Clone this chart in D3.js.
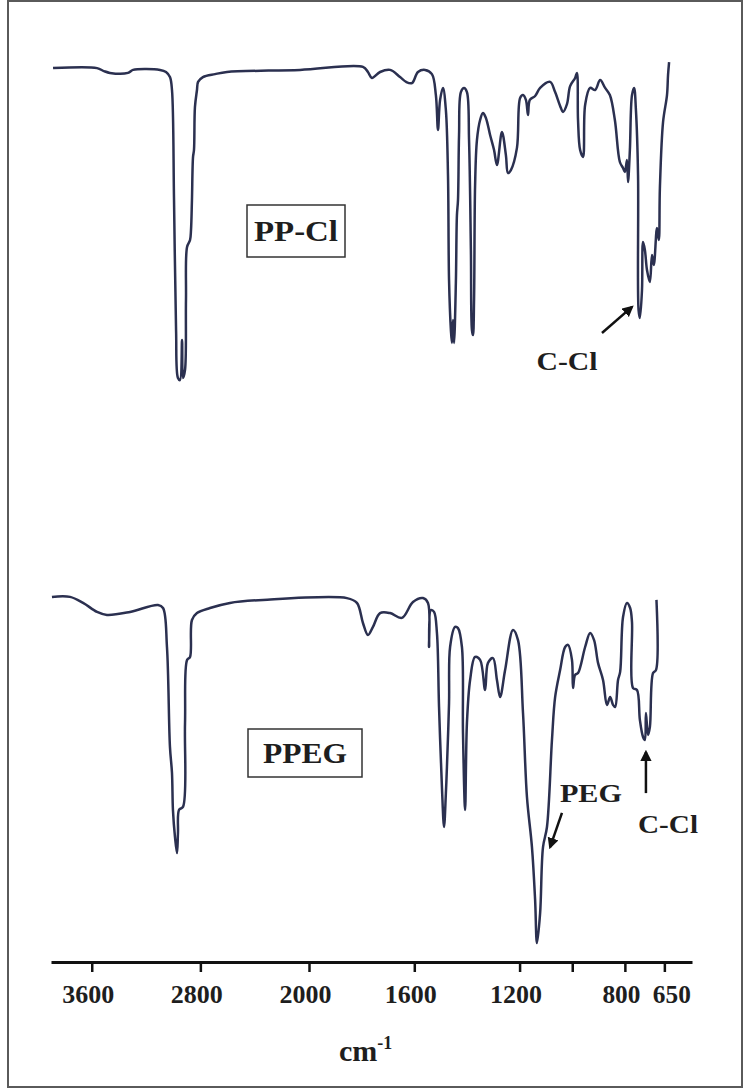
<!DOCTYPE html>
<html>
<head>
<meta charset="utf-8">
<script src="https://cdn.jsdelivr.net/npm/d3@7/dist/d3.min.js"></script>
<style>
  html, body { margin: 0; padding: 0; background: #fff; }
  svg { display: block; }
  text { font-family: "Liberation Serif", "DejaVu Serif", serif; font-weight: bold; fill: #1e1e1e; }
</style>
</head>
<body>
<div id="chart"></div>
<script>
// wavenumber (cm-1) / relative transmittance
const ppclWn = [3885, 3561, 3510, 3466, 3333, 3296, 3097, 3053, 3024, 3009, 2994, 2979, 2965, 2950, 2935, 2928, 2913, 2906, 2898, 2876, 2869, 2862, 2854, 2847, 2840, 2825, 2817, 2781, 2692, 2604, 2066,
  1795, 1776, 1761, 1730, 1692, 1654, 1631, 1609, 1586, 1559, 1533, 1518, 1510, 1502, 1491, 1480, 1472, 1468, 1461, 1457, 1453, 1449, 1442, 1438, 1434, 1430, 1423, 1411, 1400, 1392, 1385, 1381, 1377, 1373, 1369, 1362,
  1350, 1339, 1328, 1312, 1297, 1286, 1267, 1252, 1244, 1233, 1210, 1198, 1187, 1176, 1168, 1161, 1141, 1122, 1084, 1065, 1046, 1035, 1020, 1008, 989, 982, 978, 970, 959, 951,
  932, 913, 894, 875, 857, 838, 819, 807, 800, 792, 788, 781, 773, 765, 758, 750, 748, 743, 735, 731, 724, 716, 705, 697, 690, 678, 671, 667, 655, 640, 636, 632]
const ppclT = [107.3, 107.3, 106.3, 105.7, 105.7, 106.7, 106.7, 106, 104.3, 100, 63.3, 20, 4, 3.3, 16.7, 4, 6.7, 30, 47.7, 50, 53.3, 63.3, 77.7, 80, 94.3, 100, 102.7, 104.3, 105.3, 106, 106.7,
  107.7, 106, 104, 106, 106.7, 104.3, 102.7, 102.3, 106, 106.7, 105.3, 98.3, 86.7, 96.7, 100.7, 93.3, 71.7, 36.7, 20, 15.7, 23.3, 15.7, 36, 58.3, 63.3, 85, 99.3, 100.7, 99.3, 83.3, 46.7, 20, 18.3, 30, 68.3, 83.3,
  90, 92.3, 90.7, 85, 80, 75, 86, 78.3, 72.3, 73.3, 80.7, 97.3, 98.3, 96.7, 91.7, 96.7, 98, 100.7, 102.7, 99.3, 94.7, 92.7, 95.3, 101.3, 104, 105.7, 90, 80, 77.7, 95,
  100.7, 100, 103.3, 100.7, 98.3, 90, 76, 74, 72.7, 76.7, 69.3, 80, 98.3, 100.7, 93.3, 71.7, 26.7, 24, 33.3, 49.3, 46.7, 40, 36, 45, 41.7, 54, 50, 67.3, 89.3, 98.3, 105, 109.3]

const ppegWn = [3893, 3760, 3664, 3561, 3488, 3318, 3112, 3075, 3046, 3024, 3009, 3002, 2987, 2972, 2965, 2957, 2928, 2913, 2898, 2876, 2862, 2825, 2729, 2582, 2339,
  1856, 1818, 1795, 1776, 1757, 1730, 1692, 1647, 1605, 1567, 1548, 1544, 1537, 1525, 1514, 1506, 1495, 1487, 1480, 1476, 1468, 1464, 1445, 1434, 1419, 1415, 1407, 1400, 1388, 1369,
  1350, 1331, 1320, 1301, 1286, 1274, 1255, 1225, 1206, 1187, 1172, 1153, 1141, 1134, 1122, 1111, 1096, 1077, 1065, 1046, 1027, 1016, 1001, 997, 989, 978, 951,
  932, 917, 902, 883, 868, 856, 845, 837, 826, 818, 807, 792, 780, 773, 769, 754, 743, 731, 724, 720, 712, 705, 693, 682, 680]
const ppegT = [117.7, 117.7, 115.7, 112.7, 111.7, 112.7, 115, 114, 101, 67.7, 59, 46.7, 37.7, 32.3, 39, 46.7, 47.7, 75.7, 96.7, 97.7, 110, 112.3, 114, 115.7, 116.7,
  117.3, 115.7, 109, 105, 107.7, 112.3, 112.3, 110.7, 116, 117.3, 115.7, 101, 113.3, 112.7, 105.7, 81, 54.3, 41, 52.3, 61, 82.3, 101, 107.7, 107.3, 101, 72.3, 46.7, 75.7, 90, 97.7,
  96.7, 86.7, 95.7, 97.3, 90, 84.3, 93.3, 106.7, 103.3, 79, 51, 34.3, 16.7, 2.3, 12.3, 34.3, 41, 70, 84.3, 93.3, 101, 101.7, 96.7, 87.3, 91.7, 92.3, 101,
  105.7, 103.3, 95.7, 90, 81.7, 84.3, 81.7, 81, 90, 92.7, 111, 115.7, 114, 109.3, 87.3, 86.7, 76.7, 71, 70, 79, 71.7, 74.3, 92.3, 93.3, 116.7]

const tickValues = [3600, 2800, 2000, 1600, 1200, 1000, 800, 650]
const tickLabels = ['3600', '2800', '2000', '1600', '1200', '', '800', '650']

const W = 750
const H = 1090

const svg = d3.select('#chart').append('svg')
  .attr('width', W)
  .attr('height', H)

// outer frame
svg.append('rect')
  .attr('x', 8).attr('y', 1)
  .attr('width', 734).attr('height', 1086)
  .attr('fill', 'none')
  .attr('stroke', '#5a5a5a')
  .attr('stroke-width', 2)

// the x axis changes scale at 2000 cm-1
const x = d3.scaleLinear().domain([3900, 2000, 545]).range([51, 309, 692])
const yTop = d3.scaleLinear().domain([0, 110]).range([390, 60])
const yBot = d3.scaleLinear().domain([0, 120]).range([950, 590])

function drawTrace (wn, t, y) {
  const pts = wn.map((d, i) => [d, t[i]])
  const line = d3.line()
    .x(d => x(d[0]))
    .y(d => y(d[1]))
    .curve(d3.curveCatmullRom.alpha(0.5))
  svg.append('path')
    .datum(pts)
    .attr('d', line)
    .attr('fill', 'none')
    .attr('stroke', '#2b3050')
    .attr('stroke-width', 2.5)
    .attr('stroke-linejoin', 'round')
}

drawTrace(ppclWn, ppclT, yTop)
drawTrace(ppegWn, ppegT, yBot)

// axis
const axisG = svg.append('g')
  .attr('transform', 'translate(0,962)')
  .call(d3.axisBottom(x)
    .tickValues(tickValues)
    .tickSize(10)
    .tickSizeOuter(0)
    .tickFormat((d, i) => tickLabels[i]))
axisG.select('.domain').attr('stroke', '#111').attr('stroke-width', 3)
axisG.selectAll('.tick line').attr('stroke', '#111').attr('stroke-width', 2.5)
axisG.selectAll('.tick text')
  .attr('y', 41)
  .attr('dy', 0)
  .attr('dx', d => d === 650 ? 7 : -4)
  .attr('font-size', 25)
  .attr('font-family', '"Liberation Serif", serif')
  .attr('font-weight', 'bold')
  .attr('fill', '#222')
  .attr('textLength', d => d >= 1000 ? 52 : 38)
  .attr('lengthAdjust', 'spacingAndGlyphs')

// axis title
const title = svg.append('text')
  .attr('x', 339)
  .attr('y', 1061)
  .attr('font-size', 30)
title.append('tspan').text('cm')
title.append('tspan').text('-1').attr('font-size', 18).attr('dy', -12)

// sample name boxes
function nameBox (label, bx, by, bw, bh) {
  svg.append('rect')
    .attr('x', bx).attr('y', by)
    .attr('width', bw).attr('height', bh)
    .attr('fill', '#fff')
    .attr('stroke', '#333')
    .attr('stroke-width', 1.5)
  svg.append('text')
    .attr('x', bx + bw / 2)
    .attr('y', by + bh / 2 + 10)
    .attr('text-anchor', 'middle')
    .attr('font-size', 29)
    .attr('textLength', 84)
    .attr('lengthAdjust', 'spacingAndGlyphs')
    .text(label)
}
nameBox('PP-Cl', 247, 205, 98, 52)
nameBox('PPEG', 248, 729, 114, 48)

// arrows to peaks
svg.append('defs').append('marker')
  .attr('id', 'head')
  .attr('viewBox', '0 0 10 10')
  .attr('refX', 8).attr('refY', 5)
  .attr('markerWidth', 4.5).attr('markerHeight', 4.5)
  .attr('orient', 'auto')
  .append('path')
  .attr('d', 'M0,0L10,5L0,10z')
  .attr('fill', '#111')

const notes = [
  { text: 'C-Cl', y: yTop, tx: 1020, ty: 6.7, len: 61, from: [887, 19], to: [773, 27.7] },
  { text: 'PEG', y: yBot, tx: 929, ty: 49.3, len: 62, from: [1039, 45.7], to: [1084, 34.3] },
  { text: 'C-Cl', y: yBot, tx: 636, ty: 39, len: 60, from: [720, 52.3], to: [720, 66] }
]

notes.forEach(n => {
  svg.append('line')
    .attr('x1', x(n.from[0])).attr('y1', n.y(n.from[1]))
    .attr('x2', x(n.to[0])).attr('y2', n.y(n.to[1]))
    .attr('stroke', '#111')
    .attr('stroke-width', 2.5)
    .attr('marker-end', 'url(#head)')
  svg.append('text')
    .attr('x', x(n.tx))
    .attr('y', n.y(n.ty))
    .attr('text-anchor', 'middle')
    .attr('font-size', 26)
    .attr('textLength', n.len)
    .attr('lengthAdjust', 'spacingAndGlyphs')
    .text(n.text)
})
</script>
</body>
</html>
